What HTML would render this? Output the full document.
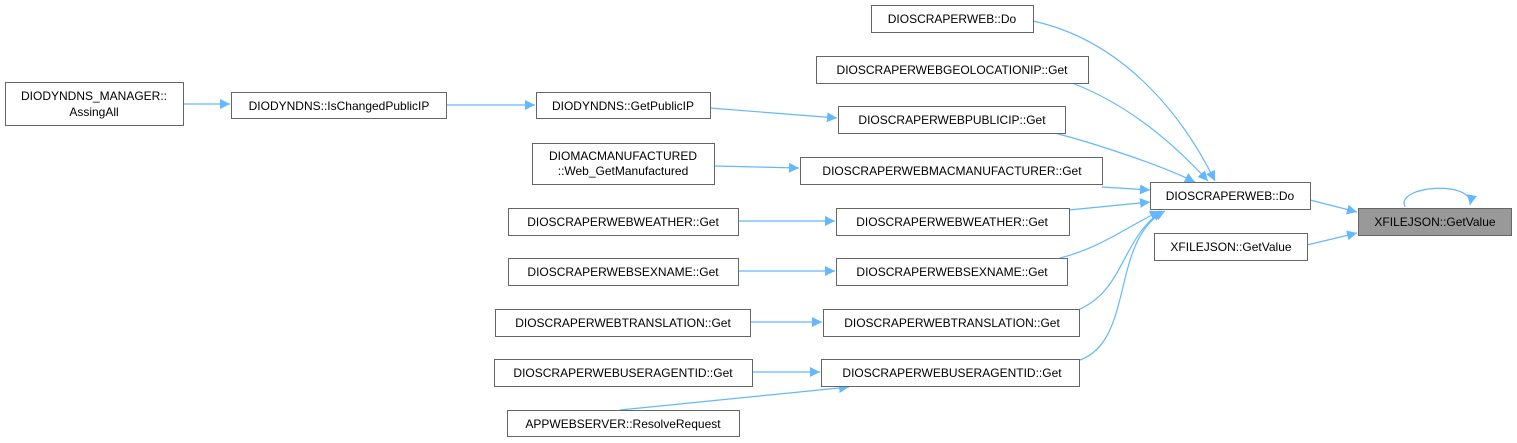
<!DOCTYPE html>
<html><head><meta charset="utf-8"><style>
html,body{margin:0;padding:0;background:#fff;}
svg{display:block;}
text{font-family:"Liberation Sans",Arial,sans-serif;font-size:12px;fill:#000;}
</style></head><body>
<svg width="1517" height="443" viewBox="0 0 1517 443" xmlns="http://www.w3.org/2000/svg">
<defs>
<marker id="a" viewBox="0 0 10 10" refX="10" refY="5" markerWidth="10" markerHeight="10" markerUnits="userSpaceOnUse" orient="auto">
<path d="M0,0 L10,5 L0,10 z" fill="#63b8ff"/></marker>
</defs>
<g fill="none" stroke="#63b8ff" stroke-width="1.2" marker-end="url(#a)">
<path d="M183,104 L230,104"/>
<path d="M446,105 L535,105"/>
<path d="M710,108 L837,118"/>
<path d="M714,166 L799,168"/>
<path d="M738,221 L835,221"/>
<path d="M738,271 L835,271"/>
<path d="M750,322 L822,322"/>
<path d="M752,372 L820,372"/>
<path d="M620,410 L849,387"/>
<path d="M1033,21 C1120,40 1180,110 1215,181"/>
<path d="M1072,83 C1130,105 1175,145 1208,181"/>
<path d="M1055,133 C1100,145 1160,165 1195,182"/>
<path d="M1102,187 L1150,190"/>
<path d="M1069,210 L1150,202"/>
<path d="M1060,258 C1100,248 1125,228 1160,211"/>
<path d="M1078,310 C1125,290 1120,240 1162,211"/>
<path d="M1080,360 C1135,340 1110,240 1165,211"/>
<path d="M1310,200 L1357,212"/>
<path d="M1307,245 L1357,233"/>
<path d="M1405,207 C1395,185 1475,180 1470,205"/>
</g>
<g fill="#fff" stroke="#666" stroke-width="1">
<rect x="5.5" y="82.5" width="178" height="43"/>
<rect x="231.5" y="92.5" width="215" height="26"/>
<rect x="536.5" y="92.5" width="174" height="26"/>
<rect x="532.5" y="143.5" width="182" height="41"/>
<rect x="508.5" y="208.5" width="230" height="27"/>
<rect x="508.5" y="258.5" width="230" height="27"/>
<rect x="495.5" y="309.5" width="255" height="27"/>
<rect x="494.5" y="359.5" width="258" height="27"/>
<rect x="507.5" y="410.5" width="232" height="26"/>
<rect x="871.5" y="5.5" width="162" height="27"/>
<rect x="816.5" y="56.5" width="272" height="27"/>
<rect x="838.5" y="106.5" width="227" height="27"/>
<rect x="800.5" y="157.5" width="302" height="27"/>
<rect x="836.5" y="208.5" width="233" height="27"/>
<rect x="836.5" y="258.5" width="231" height="27"/>
<rect x="823.5" y="309.5" width="256" height="27"/>
<rect x="821.5" y="359.5" width="258" height="27"/>
<rect x="1150.5" y="182.5" width="160" height="27"/>
<rect x="1154.5" y="233.5" width="153" height="27"/>
<rect x="1358.5" y="208.5" width="153" height="27" fill="#999"/>
</g>
<g text-anchor="middle">
<text x="94" y="100">DIODYNDNS_MANAGER::</text><text x="94" y="116">AssingAll</text>
<text x="339" y="110">DIODYNDNS::IsChangedPublicIP</text>
<text x="623" y="110">DIODYNDNS::GetPublicIP</text>
<text x="623" y="160">DIOMACMANUFACTURED</text><text x="623" y="175">::Web_GetManufactured</text>
<text x="623" y="226">DIOSCRAPERWEBWEATHER::Get</text>
<text x="623" y="276">DIOSCRAPERWEBSEXNAME::Get</text>
<text x="623" y="327">DIOSCRAPERWEBTRANSLATION::Get</text>
<text x="623" y="377">DIOSCRAPERWEBUSERAGENTID::Get</text>
<text x="623" y="428">APPWEBSERVER::ResolveRequest</text>
<text x="952" y="23">DIOSCRAPERWEB::Do</text>
<text x="952" y="74">DIOSCRAPERWEBGEOLOCATIONIP::Get</text>
<text x="952" y="124">DIOSCRAPERWEBPUBLICIP::Get</text>
<text x="952" y="175">DIOSCRAPERWEBMACMANUFACTURER::Get</text>
<text x="952" y="226">DIOSCRAPERWEBWEATHER::Get</text>
<text x="952" y="276">DIOSCRAPERWEBSEXNAME::Get</text>
<text x="952" y="327">DIOSCRAPERWEBTRANSLATION::Get</text>
<text x="952" y="377">DIOSCRAPERWEBUSERAGENTID::Get</text>
<text x="1230" y="200">DIOSCRAPERWEB::Do</text>
<text x="1231" y="251">XFILEJSON::GetValue</text>
<text x="1435" y="226">XFILEJSON::GetValue</text>
</g>
</svg>
</body></html>
